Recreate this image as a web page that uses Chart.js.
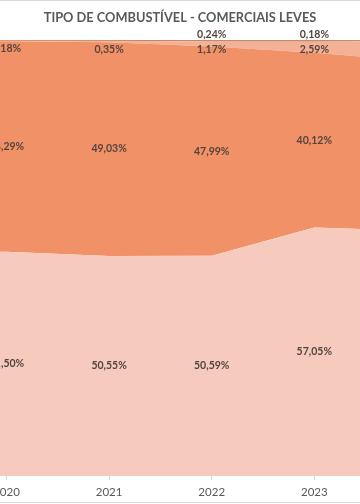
<!DOCTYPE html>
<html>
<head>
<meta charset="utf-8">
<script src="https://cdn.jsdelivr.net/npm/chart.js@4.4.1/dist/chart.umd.min.js"></script>
<style>
  html, body { margin: 0; padding: 0; background: #ffffff; }
  #wrap { width: 360px; height: 504px; position: relative; }
</style>
</head>
<body>
<div id="wrap"><canvas id="c" width="360" height="504"></canvas></div>
<script>
// Years (2019 and 2024 lie just outside the visible crop)
const years = [2019, 2020, 2021, 2022, 2023, 2024];
const tickYears = [2020, 2021, 2022, 2023];
// Series values (%), bottom to top
const seriesA = [51.60, 51.50, 50.55, 50.59, 57.05, 56.30];
const seriesB = [48.22, 48.29, 49.03, 47.99, 40.12, 38.90];
const seriesC = [0.15, 0.18, 0.35, 1.17, 2.59, 4.60];
const seriesD = [0.03, 0.03, 0.07, 0.24, 0.18, 0.20];
const seriesNames = ['Série A', 'Série B', 'Série C', 'Série D'];
const colors = ['#F6CBBD', '#F09167', '#F4B196', '#B8704E'];
const titleText = 'TIPO DE COMBUSTÍVEL - COMERCIAIS LEVES';

const allSeries = [seriesA, seriesB, seriesC, seriesD];
const datasets = allSeries.map((s, i) => ({
  label: seriesNames[i],
  data: s.map((v, j) => ({ x: years[j], y: v })),
  backgroundColor: colors[i],
  borderColor: colors[i],
  borderWidth: i === 3 ? 1.2 : 0,
  pointRadius: 0,
  tension: 0,
  fill: i === 0 ? 'origin' : '-1'
}));

const fmt = v => v.toFixed(2).replace('.', ',') + '%';

const labelPlugin = {
  id: 'areaLabels',
  afterDatasetsDraw(chart) {
    const ctx = chart.ctx;
    const yScale = chart.scales.y;
    ctx.save();
    ctx.font = 'bold 10.5px Lato';
    ctx.fillStyle = '#54443E';
    ctx.textAlign = 'center';
    ctx.textBaseline = 'middle';
    chart.data.datasets.forEach((ds, i) => {
      const meta = chart.getDatasetMeta(i);
      meta.data.forEach((pt, j) => {
        const v = allSeries[i][j];
        if (v < 0.1) return;
        const top = pt.y;
        let base;
        if (i === 0) base = yScale.getPixelForValue(0);
        else base = chart.getDatasetMeta(i - 1).data[j].y;
        let y;
        if (i <= 1) y = (top + base) / 2;
        else if (i === 2) y = top + 8.5;
        else y = top - 6;
        ctx.fillText(fmt(v), pt.x, y);
      });
    });
    ctx.restore();
  }
};

const framePlugin = {
  id: 'frame',
  afterDraw(chart) {
    const ctx = chart.ctx;
    ctx.save();
    ctx.strokeStyle = '#D9D9D9';
    ctx.lineWidth = 1;
    ctx.beginPath();
    ctx.moveTo(0, 0.5); ctx.lineTo(360, 0.5);
    ctx.moveTo(0, 502.5); ctx.lineTo(360, 502.5);
    ctx.stroke();
    ctx.restore();
  }
};

new Chart(document.getElementById('c'), {
  type: 'line',
  data: { datasets },
  options: {
    responsive: false,
    animation: false,
    layout: { autoPadding: false, padding: { left: 0, right: 0, top: 0, bottom: 0 } },
    plugins: {
      legend: { display: false },
      tooltip: { enabled: false },
      title: {
        display: true,
        text: titleText,
        color: '#595959',
        font: { family: 'Lato', size: 12.8, weight: 'bold' },
        padding: { top: 10, bottom: 15 }
      }
    },
    scales: {
      x: {
        type: 'linear',
        min: 2019.937,
        max: 2023.445,
        offset: false,
        afterBuildTicks(scale) { scale.ticks = tickYears.map(v => ({ value: v })); },
        afterFit(scale) { scale.paddingLeft = 0; scale.paddingRight = 0; },
        ticks: {
          color: '#595959',
          font: { family: 'Lato', size: 11.5 },
          padding: 5,
          maxRotation: 0,
          autoSkip: false,
          callback: v => String(v)
        },
        grid: { drawOnChartArea: false, drawTicks: true, tickLength: 4, color: '#D9D9D9' },
        border: { display: false }
      },
      y: {
        stacked: true,
        min: 0,
        max: 100,
        display: false
      }
    }
  },
  plugins: [labelPlugin, framePlugin]
});
</script>
</body>
</html>
